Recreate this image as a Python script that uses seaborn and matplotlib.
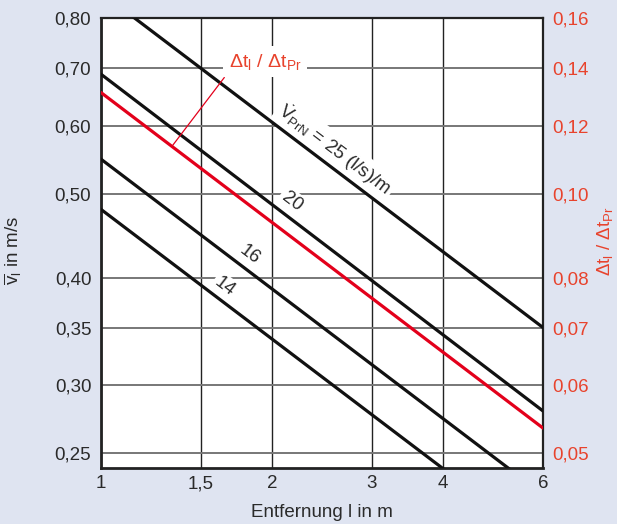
import numpy as np
import pandas as pd
import matplotlib
matplotlib.use("Agg")
import matplotlib.pyplot as plt
import seaborn as sns

# Distance along the pipe (m), line end points
distance_m = [1.0, 6.0]

# Mean air velocity (m/s) for each nominal flow rate (l/s per m)
flow_rates = [25, 20, 16, 14]
velocity_25 = [0.857, 0.350]
velocity_20 = [0.689, 0.280]
velocity_16 = [0.549, 0.224]
velocity_14 = [0.480, 0.196]

# Temperature-difference ratio (right axis)
dt_ratio = [0.1312, 0.0535]

left_ticks = [0.25, 0.30, 0.35, 0.40, 0.50, 0.60, 0.70, 0.80]
left_labels = ["0,25", "0,30", "0,35", "0,40", "0,50", "0,60", "0,70", "0,80"]
right_ticks = [0.05, 0.06, 0.07, 0.08, 0.10, 0.12, 0.14, 0.16]
right_labels = ["0,05", "0,06", "0,07", "0,08", "0,10", "0,12", "0,14", "0,16"]
x_ticks = [1, 1.5, 2, 3, 4, 6]
x_labels = ["1", "1,5", "2", "3", "4", "6"]

sns.set_style("white")
plt.rcParams["font.family"] = ["Liberation Sans", "DejaVu Sans"]
plt.rcParams["mathtext.fontset"] = "custom"
plt.rcParams["mathtext.rm"] = "Liberation Sans"
plt.rcParams["mathtext.it"] = "Liberation Sans"
plt.rcParams["mathtext.bf"] = "Liberation Sans:bold"

BG = "#dfe4f1"
TXT = "#2a2a2a"
RED_LINE = "#e3001b"
RED_TXT = "#e8432d"
FS = 13.5

fig = plt.figure(figsize=(6.17, 5.24), dpi=100, facecolor=BG)
ax = fig.add_axes([0.1637, 0.1063, 0.7163, 0.8587])
ax.set_facecolor("white")

frames = []
for rate, vals in zip(flow_rates, [velocity_25, velocity_20, velocity_16, velocity_14]):
    frames.append(pd.DataFrame({"l": distance_m, "v": vals, "rate": str(rate)}))
df = pd.concat(frames, ignore_index=True)

sns.lineplot(data=df, x="l", y="v", hue="rate", units="rate", estimator=None,
             palette=["#111111"] * 4, linewidth=2.3, legend=False, ax=ax, zorder=4)

ax.set_xscale("log")
ax.set_yscale("log")
ax.set_xlim(1, 6)
ax.set_ylim(0.2402, 0.80)
ax.set_xticks(x_ticks)
ax.set_xticklabels(x_labels)
ax.set_yticks(left_ticks)
ax.set_yticklabels(left_labels)
ax.minorticks_off()
ax.tick_params(axis="y", length=0, pad=7, labelsize=FS, labelcolor=TXT)
ax.tick_params(axis="x", length=0, pad=14.5, labelsize=FS, labelcolor=TXT)
for t in ax.get_xticklabels():
    t.set_va("baseline")

ax.xaxis.grid(True, color="#222222", linewidth=1.0)
ax.yaxis.grid(True, color="#777777", linewidth=1.4)
ax.set_axisbelow(True)
for side in ["left", "bottom", "top", "right"]:
    ax.spines[side].set_color("#222222")
    ax.spines[side].set_linewidth(1.6)
ax.spines["left"].set_linewidth(2.0)
ax.spines["bottom"].set_linewidth(2.0)

ax.set_xlabel("Entfernung l in m", fontsize=FS, color=TXT)
ax.xaxis.label.set_va("center")
ax.xaxis.set_label_coords(0.5, -0.098)
ax.set_ylabel(r"$\overline{v}_\mathregular{l}$ in m/s", fontsize=FS, color=TXT)
ax.yaxis.label.set_va("center")
ax.yaxis.set_label_coords(-0.199, 0.485)

# Right axis: temperature-difference ratio
ax2 = ax.twinx()
sns.lineplot(x=distance_m, y=dt_ratio, color=RED_LINE, linewidth=2.3, ax=ax2, zorder=4)
ax2.set_yscale("log")
ax2.set_ylim(0.2402 / 5, 0.16)
ax2.set_yticks(right_ticks)
ax2.set_yticklabels(right_labels)
ax2.minorticks_off()
ax2.tick_params(axis="y", length=0, pad=7, labelsize=FS, labelcolor=RED_TXT)
ax2.set_ylabel(r"Δt$_\mathregular{l}$ / Δt$_\mathregular{Pr}$", fontsize=FS, color=RED_TXT)
ax2.yaxis.label.set_va("center")
ax2.yaxis.set_label_coords(1.140, 0.505)
for side in ax2.spines:
    ax2.spines[side].set_visible(False)

# In-line labels for the flow-rate lines
box = dict(boxstyle="square,pad=0.15", facecolor="white", edgecolor="none")
rot = -37.2
ax.text(2.58, 0.563, r"$\dot{\mathregular{V}}_\mathregular{PrN}$ = 25 (l/s)/m",
        rotation=rot, rotation_mode="anchor", ha="center", va="center",
        fontsize=FS, color=TXT, bbox=box, zorder=3)
ax.text(2.166, 0.490, "20", rotation=rot, rotation_mode="anchor", ha="center",
        va="center", fontsize=FS, color=TXT, bbox=box, zorder=3)
ax.text(1.829, 0.425, "16", rotation=rot, rotation_mode="anchor", ha="center",
        va="center", fontsize=FS, color=TXT, bbox=box, zorder=3)
ax.text(1.653, 0.390, "14", rotation=rot, rotation_mode="anchor", ha="center",
        va="center", fontsize=FS, color=TXT, bbox=box, zorder=3)

# Call-out for the red curve
lx = 1.333
ly = np.exp(np.interp(np.log(lx), np.log(distance_m), np.log(dt_ratio)))
ax2.annotate(r"Δt$_\mathregular{l}$ / Δt$_\mathregular{Pr}$", xy=(lx, ly),
             xytext=(1.944, 0.1425), ha="center", va="center",
             fontsize=14, color=RED_TXT,
             bbox=dict(boxstyle="square,pad=0.3", facecolor="white", edgecolor="none"),
             arrowprops=dict(arrowstyle="-", color=RED_LINE, lw=0.9,
                             shrinkA=0, shrinkB=0, relpos=(0.0, 0.0)))

fig.savefig("out.png", dpi=100, facecolor=BG)
